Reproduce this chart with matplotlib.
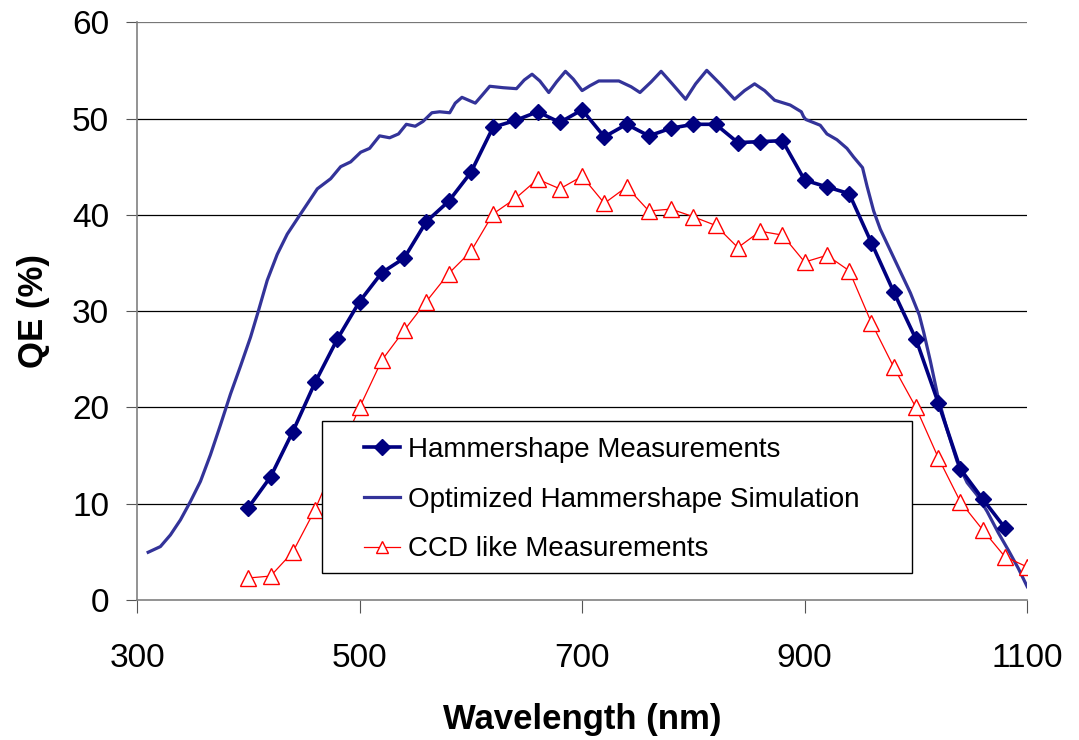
import matplotlib
matplotlib.use("Agg")
import matplotlib.pyplot as plt
from matplotlib.patches import Rectangle

plt.rcParams['font.family'] = ['Liberation Sans', 'DejaVu Sans']

# ---------------- data ----------------
meas_nm = [400, 420, 440, 460, 480, 500, 520, 540, 560, 580, 600, 620, 640, 660,
           680, 700, 720, 740, 760, 780, 800, 820, 840, 860, 880, 900, 920, 940,
           960, 980, 1000, 1020, 1040, 1060, 1080]
meas_qe = [9.6, 12.8, 17.5, 22.6, 27.1, 31.0, 34.0, 35.5, 39.3, 41.4, 44.4, 49.1,
           49.8, 50.7, 49.6, 50.9, 48.1, 49.4, 48.2, 49.0, 49.4, 49.4, 47.5, 47.6,
           47.7, 43.6, 42.9, 42.2, 37.1, 32.0, 27.1, 20.5, 13.6, 10.5, 7.5]

sim_nm = [310, 321, 330, 339, 348, 357, 366, 375, 384, 393, 402, 409, 417, 426,
          435, 447, 462, 474, 483, 492, 501, 509, 518, 527, 535, 542, 550, 557,
          565, 572, 581, 586, 592, 598, 604, 610, 617, 629, 641, 648, 655, 662,
          670, 677, 685, 692, 700, 707, 715, 733, 744, 752, 762, 771, 781, 793,
          802, 812, 824, 837, 846, 855, 864, 873, 887, 897, 899, 901, 914, 920,
          929, 938, 944, 952, 956, 962, 968, 977, 986, 995, 1003, 1007, 1013,
          1020, 1028, 1037, 1046, 1055, 1064, 1074, 1083, 1092, 1100]
sim_qe = [4.97, 5.56, 6.77, 8.33, 10.24, 12.33, 15.1, 18.2, 21.4, 24.3, 27.3,
          30.0, 33.2, 35.9, 38.0, 40.1, 42.7, 43.75, 45.0, 45.5, 46.5, 46.9,
          48.2, 48.0, 48.4, 49.4, 49.2, 49.7, 50.6, 50.7, 50.6, 51.6, 52.2,
          51.9, 51.6, 52.4, 53.35, 53.2, 53.1, 54.0, 54.6, 53.9, 52.7, 53.8,
          54.9, 54.1, 52.9, 53.4, 53.9, 53.9, 53.3, 52.7, 53.8, 54.9, 53.6,
          52.0, 53.6, 55.0, 53.6, 52.0, 52.9, 53.6, 52.9, 51.9, 51.4, 50.7,
          50.2, 49.9, 49.3, 48.4, 47.8, 46.9, 46.0, 44.9, 43.0, 40.4, 38.5,
          36.3, 34.1, 31.9, 29.6, 27.8, 24.8, 21.0, 17.7, 14.4, 12.2, 10.9,
          9.2, 7.0, 5.2, 3.3, 1.4]

ccd_nm = [400, 420, 440, 460, 480, 500, 520, 540, 560, 580, 600, 620, 640, 660,
          680, 700, 720, 740, 760, 780, 800, 820, 840, 860, 880, 900, 920, 940,
          960, 980, 1000, 1020, 1040, 1060, 1080, 1100]
ccd_qe = [2.3, 2.5, 5.0, 9.4, 14.8, 20.0, 24.9, 28.0, 31.0, 33.9, 36.2, 40.1,
          41.7, 43.7, 42.7, 44.0, 41.2, 42.9, 40.4, 40.6, 39.8, 38.9, 36.6, 38.3,
          37.9, 35.1, 35.8, 34.2, 28.8, 24.2, 20.0, 14.8, 10.2, 7.3, 4.5, 3.45]

labels = ["Hammershape Measurements", "Optimized Hammershape Simulation",
          "CCD like Measurements"]
xticks = [300, 500, 700, 900, 1100]
yticks = [0, 10, 20, 30, 40, 50, 60]

# ---------------- figure ----------------
fig = plt.figure(figsize=(10.79, 7.40), dpi=100)
ax = fig.add_axes([0.127, 0.189, 0.825, 0.781])

l1, = ax.plot(meas_nm, meas_qe, color='#000080', lw=2.6, marker='D',
              markersize=8, zorder=3)
l2, = ax.plot(sim_nm, sim_qe, color='#333399', lw=2.3, zorder=2,
              solid_joinstyle='round')
l3, = ax.plot(ccd_nm, ccd_qe, color='#ff0000', lw=0.9, marker='^',
              markersize=11, markerfacecolor='white', markeredgecolor='#ff0000',
              markeredgewidth=1.0, zorder=2.5)

ax.set_xlim(300, 1100)
ax.set_ylim(0, 60)
ax.set_xticks(xticks)
ax.set_yticks(yticks)
ax.tick_params(axis='both', labelsize=24, color='#555555', direction='out')
ax.tick_params(axis='x', length=9, pad=22)
ax.tick_params(axis='y', length=8, pad=12)

ax.yaxis.grid(True, color='black', lw=0.9)
ax.set_axisbelow(True)
ax.get_ygridlines()[-1].set_color('#777777')
ax.get_ygridlines()[0].set_visible(False)

for s in ['top', 'right']:
    ax.spines[s].set_visible(False)
for s in ['left', 'bottom']:
    ax.spines[s].set_color('#808080')
    ax.spines[s].set_linewidth(1.2)

ax.set_xlabel("Wavelength (nm)", fontsize=25, fontweight='bold', labelpad=21)
ax.set_ylabel("QE (%)", fontsize=25, fontweight='bold', labelpad=16)

# legend box (white, covers the lines) + legend entries
ax.add_patch(Rectangle((0.208, 0.047), 0.663, 0.263, transform=ax.transAxes,
                       facecolor='white', edgecolor='black', lw=1.0,
                       zorder=4, clip_on=False))
leg = ax.legend([l1, l2, l3], labels, loc='upper left',
                bbox_to_anchor=(0.255, 0.282), borderaxespad=0, borderpad=0,
                frameon=False, fontsize=20, handlelength=1.3,
                handletextpad=0.3, labelspacing=0.85)
leg.set_zorder(5)
for h in leg.legend_handles:
    h.set_markersize(8)

fig.savefig("out.png", dpi=100)
